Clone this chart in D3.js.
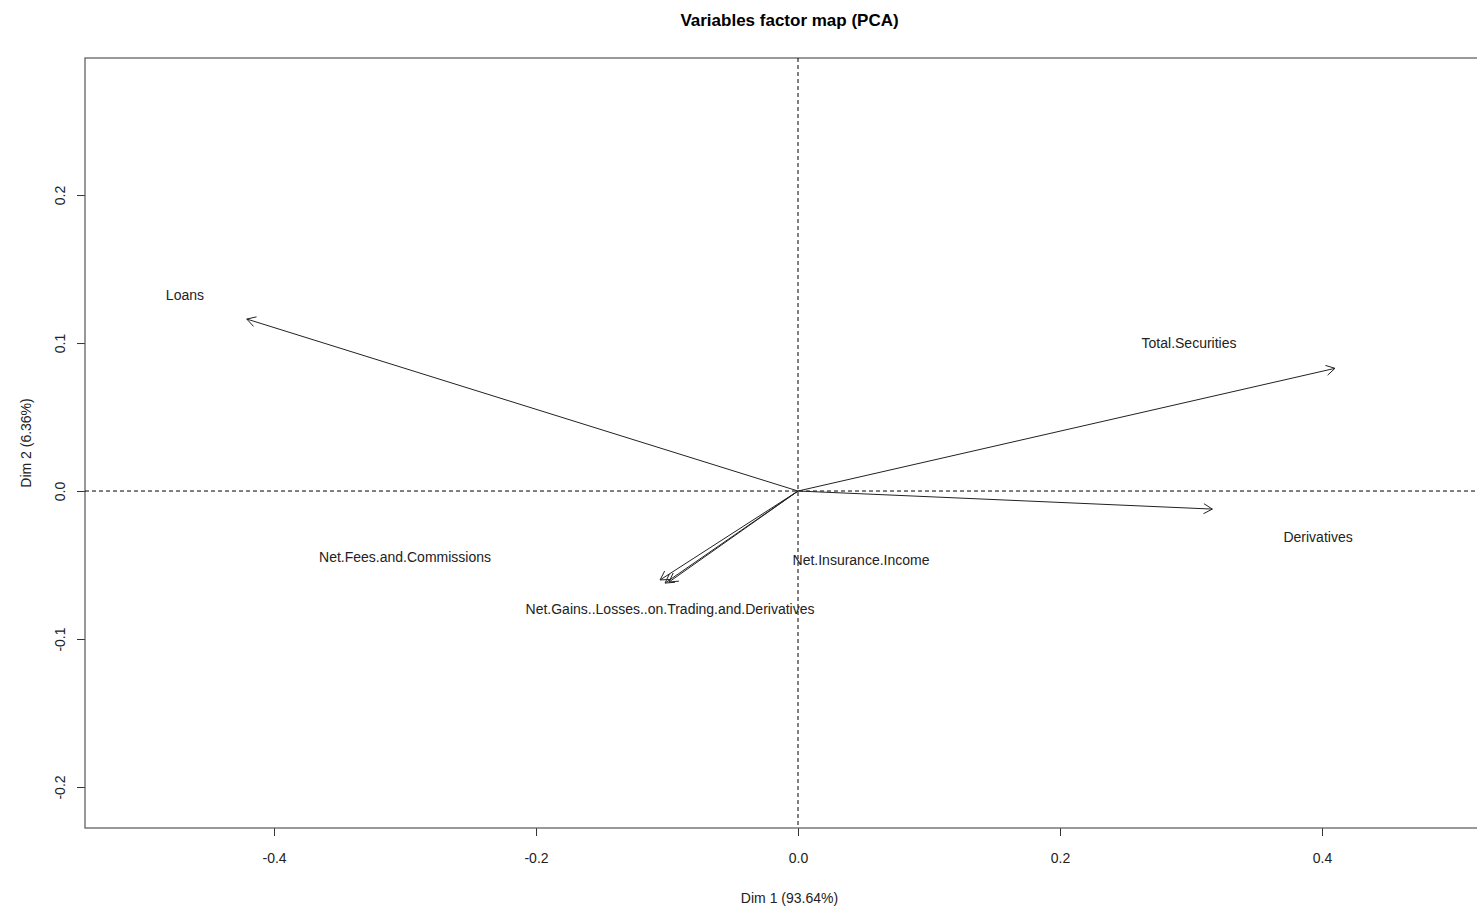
<!DOCTYPE html>
<html>
<head>
<meta charset="utf-8">
<script src="https://cdn.jsdelivr.net/npm/d3@7"></script>
<style>
  html, body { margin: 0; padding: 0; background: #fff; }
  svg { display: block; font-family: "Liberation Sans", Arial, sans-serif; }
</style>
</head>
<body>
<svg id="chart" width="1477" height="908"></svg>
<script>
// ---- data ----
const variables = ["Loans", "Total.Securities", "Derivatives", "Net.Fees.and.Commissions", "Net.Insurance.Income", "Net.Gains..Losses..on.Trading.and.Derivatives"];
const dim1 = [-0.4208, 0.4099, 0.3163, -0.1053, -0.0985, -0.1015];
const dim2 = [0.1162, 0.0829, -0.0122, -0.0601, -0.0615, -0.0622];
const labelX = [-0.468, 0.2985, 0.397, -0.300, 0.0481, -0.0977];
const labelY = [0.1324, 0.1000, -0.0311, -0.0446, -0.0466, -0.0797];
const xTicks = [-0.4, -0.2, 0.0, 0.2, 0.4];
const yTicks = [-0.2, -0.1, 0.0, 0.1, 0.2];
const titleText = "Variables factor map (PCA)";
const xTitle = "Dim 1 (93.64%)";
const yTitle = "Dim 2 (6.36%)";

// ---- layout ----
const svg = d3.select("#chart");
const L = 85, T = 58, R = 1494, B = 828;
const x = d3.scaleLinear().domain([-0.5443, 0.5313]).range([L, R]);
const y = d3.scaleLinear().domain([-0.2277, 0.2926]).range([B, T]);
const fmt = d => d.toFixed(1);

// title
svg.append("text").attr("x", (L + R) / 2).attr("y", 26)
  .attr("text-anchor", "middle").attr("font-size", 17).attr("font-weight", "bold")
  .attr("fill", "#000").text(titleText);

// axes
const xAxis = d3.axisBottom(x).tickValues(xTicks).tickFormat(fmt).tickSize(8).tickPadding(17);
const gx = svg.append("g").attr("transform", `translate(0,${B})`).call(xAxis);
gx.select(".domain").remove();
gx.selectAll(".tick line").attr("stroke", "#333");
gx.selectAll(".tick text").attr("font-size", 14).attr("fill", "#222").attr("font-family", "Liberation Sans, Arial, sans-serif");

const yAxis = d3.axisLeft(y).tickValues(yTicks).tickFormat(fmt).tickSize(8).tickPadding(10);
const gy = svg.append("g").attr("transform", `translate(${L},0)`).call(yAxis);
gy.select(".domain").remove();
gy.selectAll(".tick line").attr("stroke", "#333");
gy.selectAll(".tick text")
  .attr("font-size", 14).attr("fill", "#222").attr("font-family", "Liberation Sans, Arial, sans-serif")
  .attr("x", null).attr("dy", null)
  .attr("text-anchor", "middle")
  .attr("transform", "translate(-20,0) rotate(-90)");

// box
svg.append("rect").attr("x", L).attr("y", T).attr("width", R - L).attr("height", B - T)
  .attr("fill", "none").attr("stroke", "#555").attr("stroke-width", 1.2);

// axis titles
svg.append("text").attr("x", (L + R) / 2).attr("y", 903).attr("text-anchor", "middle")
  .attr("font-size", 14).attr("fill", "#222").text(xTitle);
svg.append("text").attr("transform", `translate(31,${(T + B) / 2}) rotate(-90)`).attr("text-anchor", "middle")
  .attr("font-size", 14).attr("fill", "#222").text(yTitle);

// dashed reference lines
svg.append("line").attr("x1", L).attr("x2", R).attr("y1", y(0)).attr("y2", y(0))
  .attr("stroke", "#000").attr("stroke-dasharray", "4,3");
svg.append("line").attr("x1", x(0)).attr("x2", x(0)).attr("y1", T).attr("y2", B)
  .attr("stroke", "#000").attr("stroke-dasharray", "4,3");

// arrows
const headLen = 10, headAng = Math.PI / 6;
const g = svg.append("g");
variables.forEach((v, i) => {
  const x0 = x(0), y0 = y(0), x1 = x(dim1[i]), y1 = y(dim2[i]);
  const ang = Math.atan2(y1 - y0, x1 - x0);
  g.append("line").attr("x1", x0).attr("y1", y0).attr("x2", x1).attr("y2", y1)
    .attr("stroke", "#222").attr("stroke-width", 1);
  const p1 = [x1 - headLen * Math.cos(ang - headAng), y1 - headLen * Math.sin(ang - headAng)];
  const p2 = [x1 - headLen * Math.cos(ang + headAng), y1 - headLen * Math.sin(ang + headAng)];
  g.append("path").attr("d", `M${p1[0]},${p1[1]}L${x1},${y1}L${p2[0]},${p2[1]}`)
    .attr("fill", "none").attr("stroke", "#222").attr("stroke-width", 1);
  g.append("text").attr("x", x(labelX[i])).attr("y", y(labelY[i]))
    .attr("dy", "0.35em").attr("text-anchor", "middle")
    .attr("font-size", 14).attr("fill", "#222").text(v);
});
</script>
</body>
</html>
